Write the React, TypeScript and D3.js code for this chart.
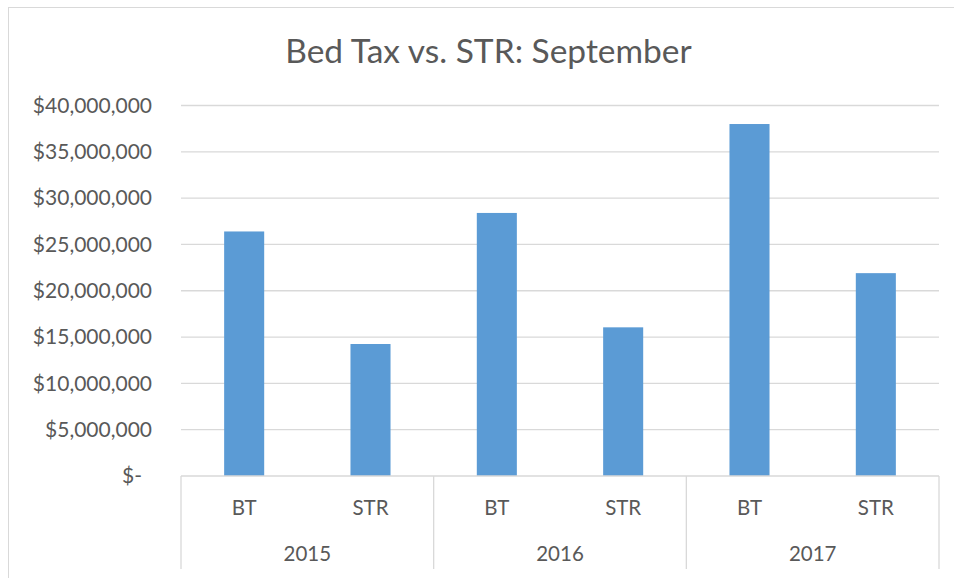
import React from 'react';
import * as d3 from 'd3';

// values
const years = ['2015', '2016', '2017'];
const series = ['BT', 'STR'];
const btValues = [26400000, 28400000, 38000000];
const strValues = [14250000, 16050000, 21900000];
const yTicks = [0, 5000000, 10000000, 15000000, 20000000, 25000000, 30000000, 35000000, 40000000];

const W = 954;
const H = 578;
const plot = { left: 181, right: 939, top: 105.5, bottom: 476 };
const font = 'Lato, "Open Sans", sans-serif';
const textColor = '#595959';
const gridColor = '#D9D9D9';

const fmt = (v: number) => (v === 0 ? '$-' : '$' + d3.format(',')(v));

export default function App() {
  const rows = years.flatMap((yr, i) => [
    { key: yr + '-BT', year: yr, name: series[0], value: btValues[i] },
    { key: yr + '-STR', year: yr, name: series[1], value: strValues[i] },
  ]);

  const x = d3.scaleBand<string>()
    .domain(rows.map(d => d.key))
    .range([plot.left, plot.right])
    .padding(0);
  const barW = x.bandwidth() * 0.317;

  const xYear = d3.scaleBand<string>()
    .domain(years)
    .range([plot.left, plot.right])
    .padding(0);

  const y = d3.scaleLinear().domain([0, 40000000]).range([plot.bottom, plot.top]);

  const axisBottom = 569;

  return (
    <svg width={W} height={H} style={{ position: 'absolute', left: 0, top: 0 }}>
      <rect x={0} y={0} width={W} height={H} fill="#fff" />
      <rect x={8.5} y={7.5} width={W + 10} height={H + 10} fill="none" stroke={gridColor} strokeWidth={1} />

      <text x={488.5} y={63} textAnchor="middle" fontFamily={font} fontSize={33.5} fill={textColor}>
        Bed Tax vs. STR: September
      </text>

      {yTicks.map(t => (
        <g key={t}>
          {t > 0 && (
            <line x1={plot.left} x2={plot.right} y1={y(t)} y2={y(t)} stroke={gridColor} strokeWidth={1.3} />
          )}
          <text
            x={t === 0 ? 142 : 152}
            y={y(t)}
            dy="0.35em"
            textAnchor="end"
            fontFamily={font}
            fontSize={21}
            fill={textColor}
          >
            {fmt(t)}
          </text>
        </g>
      ))}

      {rows.map(d => (
        <rect
          key={d.key}
          x={x(d.key)! + (x.bandwidth() - barW) / 2}
          y={y(d.value)}
          width={barW}
          height={y(0) - y(d.value)}
          fill="#5B9BD5"
        />
      ))}

      {/* category axis */}
      <line x1={plot.left} x2={plot.right} y1={plot.bottom} y2={plot.bottom} stroke={gridColor} strokeWidth={1.3} />
      {[...years.map(yr => xYear(yr)!), plot.right].map((px, i) => (
        <line key={i} x1={px} x2={px} y1={plot.bottom} y2={axisBottom} stroke={gridColor} strokeWidth={1.3} />
      ))}
      {rows.map(d => (
        <text
          key={d.key + '-lbl'}
          x={x(d.key)! + x.bandwidth() / 2}
          y={508}
          dy="0.35em"
          textAnchor="middle"
          fontFamily={font}
          fontSize={20.5}
          fill={textColor}
        >
          {d.name}
        </text>
      ))}
      {years.map(yr => (
        <text
          key={yr}
          x={xYear(yr)! + xYear.bandwidth() / 2}
          y={554}
          dy="0.35em"
          textAnchor="middle"
          fontFamily={font}
          fontSize={20.5}
          fill={textColor}
        >
          {yr}
        </text>
      ))}
    </svg>
  );
}
